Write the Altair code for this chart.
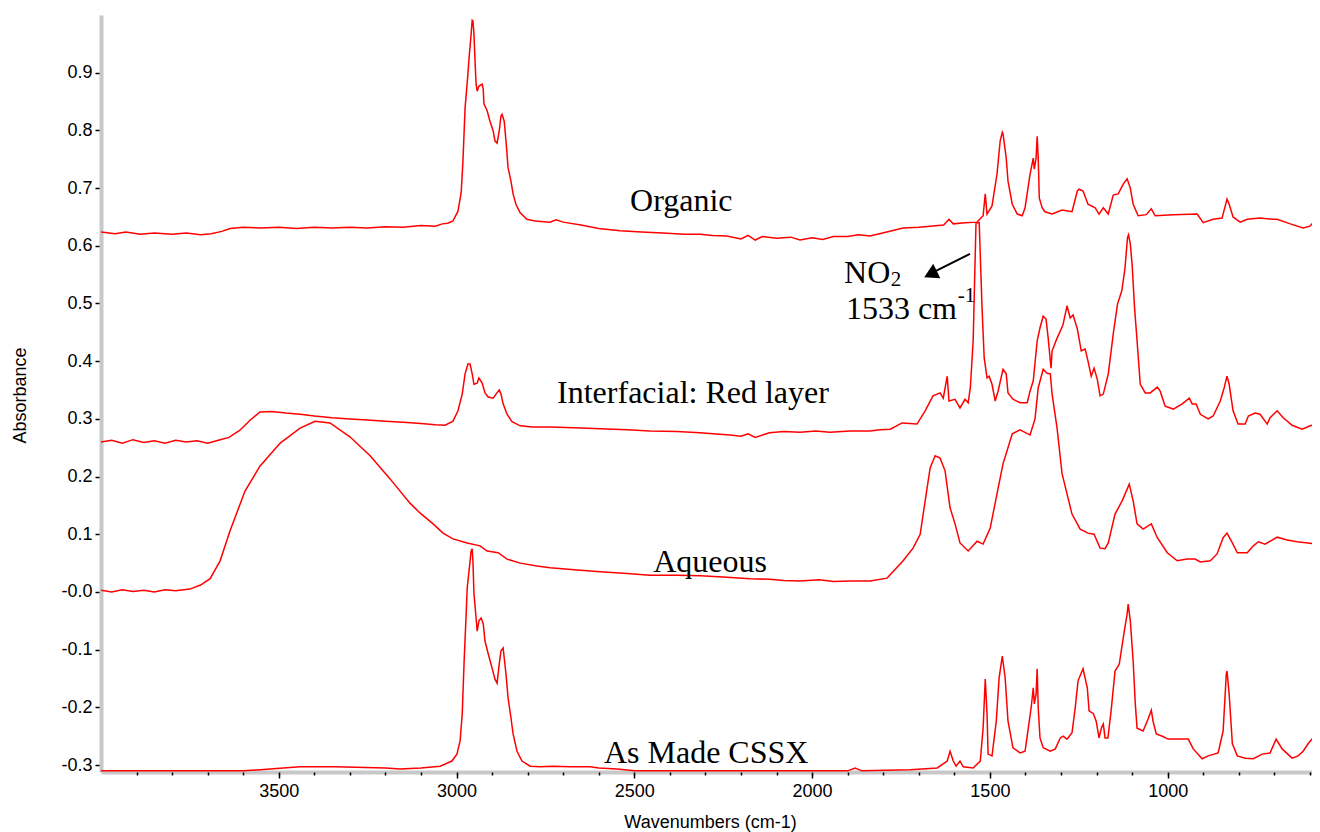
import altair as alt
import pandas as pd

# ---------------- spectra: (wavenumber cm-1, absorbance) ----------------
organic = [
    (4000, 0.624), (3960, 0.621), (3930, 0.624), (3890, 0.620), (3850, 0.622), (3800, 0.620),
    (3760, 0.622), (3720, 0.619), (3690, 0.621), (3660, 0.625), (3637, 0.630), (3600, 0.632),
    (3550, 0.631), (3500, 0.632), (3450, 0.630), (3400, 0.632), (3350, 0.631), (3300, 0.632),
    (3250, 0.631), (3200, 0.633), (3150, 0.632), (3100, 0.635), (3060, 0.634), (3040, 0.638),
    (3025, 0.639), (3010, 0.643), (2996, 0.660), (2987, 0.692), (2982, 0.747), (2976, 0.839),
    (2968, 0.898), (2965, 0.924), (2959, 0.967), (2956, 0.991), (2954, 0.990), (2951, 0.967),
    (2948, 0.920), (2945, 0.880), (2942, 0.868), (2937, 0.877), (2928, 0.880), (2925, 0.872),
    (2923, 0.846), (2914, 0.834), (2906, 0.816), (2897, 0.799), (2892, 0.782), (2886, 0.778),
    (2880, 0.799), (2875, 0.825), (2872, 0.828), (2866, 0.816), (2861, 0.782), (2855, 0.735),
    (2847, 0.712), (2841, 0.690), (2833, 0.672), (2821, 0.657), (2802, 0.646), (2779, 0.643),
    (2737, 0.641), (2720, 0.645), (2700, 0.641), (2650, 0.636), (2600, 0.630), (2540, 0.626),
    (2480, 0.624), (2420, 0.622), (2360, 0.620), (2315, 0.620), (2280, 0.618), (2240, 0.617),
    (2200, 0.612), (2180, 0.618), (2160, 0.610), (2140, 0.616), (2100, 0.613), (2060, 0.615),
    (2034, 0.610), (2000, 0.614), (1970, 0.611), (1940, 0.616), (1900, 0.616), (1870, 0.619),
    (1837, 0.617), (1790, 0.624), (1744, 0.631), (1700, 0.632), (1668, 0.634), (1630, 0.636),
    (1615, 0.646), (1603, 0.638), (1570, 0.640), (1536, 0.641), (1519, 0.652), (1513, 0.690),
    (1508, 0.655), (1494, 0.669), (1480, 0.724), (1471, 0.782), (1465, 0.797), (1463, 0.794),
    (1454, 0.752), (1449, 0.712), (1437, 0.672), (1423, 0.655), (1409, 0.652), (1401, 0.666),
    (1387, 0.724), (1378, 0.752), (1375, 0.733), (1370, 0.752), (1367, 0.790), (1364, 0.752),
    (1361, 0.683), (1353, 0.666), (1345, 0.659), (1325, 0.655), (1297, 0.662), (1269, 0.659),
    (1254, 0.695), (1249, 0.698), (1238, 0.695), (1224, 0.672), (1204, 0.666), (1193, 0.655),
    (1181, 0.666), (1167, 0.655), (1153, 0.688), (1139, 0.690), (1125, 0.707), (1114, 0.716),
    (1105, 0.700), (1097, 0.672), (1083, 0.652), (1060, 0.654), (1046, 0.664), (1035, 0.652),
    (984, 0.654), (917, 0.655), (900, 0.640), (872, 0.646), (847, 0.648), (833, 0.681),
    (827, 0.672), (816, 0.650), (796, 0.641), (776, 0.646), (740, 0.648), (703, 0.646),
    (692, 0.646), (655, 0.638), (619, 0.631), (600, 0.634), (591, 0.640), (572, 0.643),
]

interfacial = [
    (4000, 0.260), (3970, 0.263), (3940, 0.258), (3910, 0.264), (3880, 0.259), (3850, 0.262),
    (3820, 0.258), (3790, 0.263), (3760, 0.260), (3730, 0.262), (3700, 0.258), (3670, 0.263),
    (3640, 0.268), (3610, 0.280), (3580, 0.298), (3553, 0.312), (3520, 0.313), (3480, 0.310),
    (3440, 0.308), (3400, 0.305), (3350, 0.302), (3300, 0.300), (3250, 0.298), (3200, 0.296),
    (3150, 0.294), (3100, 0.292), (3060, 0.290), (3032, 0.289), (3010, 0.296), (2996, 0.314),
    (2984, 0.343), (2976, 0.378), (2968, 0.395), (2962, 0.395), (2956, 0.378), (2951, 0.360),
    (2942, 0.362), (2937, 0.371), (2928, 0.362), (2920, 0.345), (2911, 0.338), (2897, 0.336),
    (2889, 0.343), (2880, 0.350), (2875, 0.343), (2869, 0.326), (2858, 0.308), (2844, 0.295),
    (2821, 0.288), (2785, 0.286), (2737, 0.286), (2650, 0.284), (2596, 0.283), (2520, 0.281),
    (2456, 0.279), (2380, 0.278), (2315, 0.276), (2270, 0.274), (2231, 0.272), (2200, 0.270),
    (2180, 0.274), (2160, 0.268), (2120, 0.276), (2080, 0.278), (2034, 0.277), (1990, 0.279),
    (1950, 0.277), (1893, 0.279), (1837, 0.279), (1809, 0.281), (1780, 0.282), (1747, 0.293),
    (1705, 0.291), (1682, 0.314), (1660, 0.340), (1640, 0.345), (1631, 0.336), (1620, 0.374),
    (1615, 0.331), (1598, 0.334), (1584, 0.319), (1570, 0.334), (1561, 0.328), (1555, 0.354),
    (1547, 0.435), (1539, 0.640), (1530, 0.640), (1522, 0.492), (1516, 0.406), (1508, 0.371),
    (1502, 0.374), (1494, 0.360), (1485, 0.331), (1477, 0.348), (1463, 0.386), (1454, 0.378),
    (1449, 0.345), (1435, 0.334), (1415, 0.328), (1395, 0.328), (1387, 0.348), (1378, 0.366),
    (1367, 0.435), (1359, 0.458), (1350, 0.478), (1342, 0.473), (1336, 0.440), (1328, 0.388),
    (1325, 0.418), (1311, 0.440), (1302, 0.452), (1294, 0.464), (1283, 0.496), (1274, 0.475),
    (1266, 0.480), (1254, 0.456), (1243, 0.418), (1232, 0.421), (1224, 0.400), (1215, 0.374),
    (1207, 0.388), (1198, 0.369), (1190, 0.340), (1181, 0.343), (1167, 0.378), (1152, 0.452),
    (1141, 0.499), (1129, 0.522), (1120, 0.561), (1113, 0.614), (1110, 0.619), (1105, 0.603),
    (1100, 0.568), (1093, 0.492), (1088, 0.452), (1077, 0.360), (1063, 0.345), (1049, 0.345),
    (1029, 0.355), (1021, 0.348), (1007, 0.322), (984, 0.317), (959, 0.326), (939, 0.336),
    (931, 0.326), (920, 0.326), (908, 0.308), (886, 0.300), (872, 0.305), (852, 0.331),
    (841, 0.354), (833, 0.374), (827, 0.360), (816, 0.314), (802, 0.291), (782, 0.291),
    (773, 0.305), (754, 0.310), (740, 0.308), (720, 0.291), (712, 0.302), (692, 0.314),
    (675, 0.302), (650, 0.289), (622, 0.282), (599, 0.288), (585, 0.291), (572, 0.284),
]

aqueous = [
    (4000, 0.003), (3970, 0.000), (3940, 0.004), (3910, 0.001), (3880, 0.003), (3850, 0.000),
    (3820, 0.004), (3790, 0.002), (3750, 0.005), (3720, 0.012), (3693, 0.023), (3665, 0.054),
    (3637, 0.106), (3595, 0.175), (3553, 0.218), (3496, 0.258), (3440, 0.284), (3398, 0.296),
    (3356, 0.293), (3300, 0.269), (3243, 0.236), (3187, 0.196), (3131, 0.154), (3103, 0.137),
    (3066, 0.118), (3038, 0.102), (3010, 0.092), (2970, 0.085), (2934, 0.080), (2914, 0.071),
    (2883, 0.068), (2858, 0.057), (2821, 0.050), (2774, 0.045), (2737, 0.042), (2660, 0.038),
    (2596, 0.035), (2520, 0.032), (2456, 0.029), (2380, 0.029), (2315, 0.028), (2250, 0.026),
    (2174, 0.023), (2120, 0.022), (2080, 0.020), (2034, 0.019), (1980, 0.021), (1940, 0.018),
    (1893, 0.019), (1837, 0.019), (1789, 0.024), (1744, 0.054), (1716, 0.076), (1696, 0.100),
    (1682, 0.158), (1668, 0.215), (1654, 0.236), (1640, 0.232), (1626, 0.210), (1612, 0.146),
    (1598, 0.118), (1584, 0.085), (1561, 0.071), (1536, 0.088), (1519, 0.083), (1499, 0.111),
    (1480, 0.170), (1463, 0.222), (1437, 0.274), (1415, 0.281), (1387, 0.272), (1373, 0.300),
    (1364, 0.354), (1350, 0.386), (1339, 0.379), (1330, 0.378), (1325, 0.343), (1311, 0.284),
    (1297, 0.205), (1283, 0.170), (1269, 0.135), (1246, 0.109), (1224, 0.102), (1207, 0.100),
    (1190, 0.076), (1176, 0.075), (1167, 0.085), (1148, 0.135), (1128, 0.158), (1108, 0.187),
    (1097, 0.158), (1086, 0.118), (1069, 0.109), (1046, 0.118), (1029, 0.094), (1001, 0.068),
    (973, 0.054), (945, 0.057), (923, 0.057), (908, 0.052), (880, 0.054), (861, 0.066),
    (844, 0.094), (833, 0.102), (818, 0.085), (804, 0.068), (776, 0.068), (759, 0.080),
    (745, 0.087), (726, 0.083), (692, 0.095), (664, 0.090), (636, 0.087), (605, 0.085),
    (594, 0.084), (585, 0.080), (572, 0.078),
]

cssx = [
    (4000, -0.310), (3800, -0.310), (3600, -0.310), (3525, -0.307), (3440, -0.303), (3340, -0.303),
    (3200, -0.305), (3159, -0.307), (3100, -0.305), (3046, -0.302), (3013, -0.293), (2999, -0.281),
    (2990, -0.258), (2984, -0.211), (2979, -0.125), (2973, -0.038), (2970, 0.007), (2965, 0.036),
    (2959, 0.071), (2956, 0.075), (2954, 0.054), (2951, -0.003), (2945, -0.045), (2942, -0.068),
    (2937, -0.050), (2931, -0.045), (2925, -0.055), (2920, -0.085), (2911, -0.107), (2900, -0.132),
    (2892, -0.151), (2886, -0.158), (2880, -0.125), (2875, -0.102), (2869, -0.097), (2866, -0.114),
    (2861, -0.142), (2855, -0.184), (2847, -0.218), (2841, -0.246), (2830, -0.276), (2816, -0.293),
    (2793, -0.302), (2765, -0.303), (2729, -0.302), (2680, -0.303), (2624, -0.303), (2600, -0.305),
    (2548, -0.307), (2500, -0.310), (2200, -0.310), (1900, -0.310), (1879, -0.305), (1860, -0.310),
    (1724, -0.308), (1648, -0.305), (1620, -0.293), (1612, -0.276), (1603, -0.293), (1595, -0.302),
    (1584, -0.293), (1575, -0.303), (1547, -0.305), (1527, -0.293), (1519, -0.236), (1513, -0.151),
    (1508, -0.211), (1505, -0.281), (1494, -0.284), (1482, -0.224), (1474, -0.149), (1465, -0.111),
    (1457, -0.149), (1449, -0.224), (1435, -0.270), (1415, -0.279), (1401, -0.276), (1392, -0.236),
    (1384, -0.201), (1378, -0.166), (1375, -0.194), (1370, -0.177), (1367, -0.133), (1364, -0.201),
    (1359, -0.253), (1350, -0.270), (1330, -0.276), (1316, -0.272), (1302, -0.253), (1294, -0.250),
    (1283, -0.255), (1269, -0.244), (1260, -0.201), (1252, -0.154), (1238, -0.133), (1226, -0.166),
    (1221, -0.206), (1209, -0.211), (1201, -0.224), (1193, -0.253), (1186, -0.235), (1181, -0.229),
    (1176, -0.253), (1168, -0.253), (1159, -0.206), (1148, -0.137), (1136, -0.125), (1125, -0.080),
    (1114, -0.038), (1111, -0.021), (1105, -0.050), (1097, -0.120), (1091, -0.194), (1086, -0.236),
    (1069, -0.241), (1055, -0.220), (1046, -0.205), (1041, -0.224), (1032, -0.246), (1015, -0.250),
    (999, -0.255), (959, -0.255), (942, -0.255), (928, -0.272), (903, -0.289), (886, -0.284),
    (858, -0.279), (844, -0.241), (835, -0.142), (833, -0.137), (827, -0.177), (818, -0.263),
    (804, -0.284), (782, -0.288), (759, -0.289), (734, -0.281), (712, -0.279), (695, -0.255),
    (678, -0.272), (650, -0.288), (633, -0.284), (619, -0.276), (605, -0.263), (594, -0.255),
    (586, -0.250), (580, -0.245), (577, -0.232), (574, -0.262), (572, -0.258),
]

series_names = ["Organic", "Interfacial", "Aqueous", "As Made CSSX"]
series_data = [organic, interfacial, aqueous, cssx]

# ---------------- annotations (text, wavenumber, absorbance at baseline) ----------------
label_text = ["Organic", "Interfacial: Red layer", "Aqueous", "As Made CSSX"]
label_wn = [2368, 2335, 2287, 2298]
label_abs = [0.660, 0.328, 0.035, -0.296]

note_text = ["NO", "1533 cm"]
note_wn = [1910, 1905]
note_abs = [0.536, 0.473]

small_text = ["2", "-1"]
small_wn = [1779, 1590]
small_abs = [0.530, 0.503]

arrow_from = (1556, 0.586)
arrow_to = (1660, 0.554)
arrow_head = (1667, 0.551)

# ---------------- axis tick values ----------------
x_major = [1000, 1500, 2000, 2500, 3000, 3500]
x_minor = list(range(600, 4000, 100))
y_ticks = [round(-0.3 + 0.025 * i, 3) for i in range(52)]

rows = []
for name, pts in zip(series_names, series_data):
    for w, a in pts:
        rows.append({"series": name, "wn": w, "absorb": a})
df = pd.DataFrame(rows)

labels_df = pd.DataFrame({"text": label_text, "wn": label_wn, "absorb": label_abs})
notes_df = pd.DataFrame({"text": note_text, "wn": note_wn, "absorb": note_abs})
small_df = pd.DataFrame({"text": small_text, "wn": small_wn, "absorb": small_abs})
arrow_df = pd.DataFrame({"wn": [arrow_from[0]], "absorb": [arrow_from[1]],
                         "wn2": [arrow_to[0]], "absorb2": [arrow_to[1]]})
head_df = pd.DataFrame({"wn": [arrow_head[0]], "absorb": [arrow_head[1]]})

x_scale = alt.Scale(domain=[4000, 594], nice=False, zero=False)
y_scale = alt.Scale(domain=[-0.312, 1.0], nice=False, zero=False)

y_major = "abs(datum.value*10 - round(datum.value*10)) < 0.001"
x_axis_major = alt.Axis(
    values=x_major, format="d", tickSize=6, orient="bottom",
    title="Wavenumbers (cm-1)",
    titleX=609, titleY=55, titleAlign="center", titleBaseline="alphabetic",
    labelPadding=4, labelOverlap=False, labelFlush=False, grid=False,
)
x_axis_minor = alt.Axis(
    values=x_minor, tickSize=3, orient="bottom", labels=False, domain=False,
    title=None, grid=False,
)
y_axis = alt.Axis(
    values=y_ticks,
    labelExpr=(y_major + " ? (abs(datum.value) < 0.0001 ? '-0.0' : "
               "((datum.value < 0 ? '-' : '') + format(abs(datum.value), '.1f'))) : ''"),
    tickSize={"condition": {"test": y_major, "value": 6}, "value": 3},
    title="Absorbance",
    titleX=-81, titleY=380, titleAlign="center", titleBaseline="middle", titleAngle=270,
    labelPadding=3, labelOverlap=False, labelFlush=False, grid=False,
)

Xn = alt.X("wn:Q", scale=x_scale, axis=None)
Yn = alt.Y("absorb:Q", scale=y_scale)

lines = alt.Chart(df).mark_line(color="#ff0000", strokeWidth=1.5, clip=True).encode(
    x=alt.X("wn:Q", scale=x_scale, axis=x_axis_major),
    y=alt.Y("absorb:Q", scale=y_scale, axis=y_axis),
    detail="series:N",
)

minor_ticks = alt.Chart(head_df).mark_point(opacity=0).encode(
    x=alt.X("wn:Q", scale=x_scale, axis=x_axis_minor), y=Yn
)

main_labels = alt.Chart(labels_df).mark_text(
    font="Liberation Serif", fontSize=32, align="center", baseline="alphabetic", color="black"
).encode(x=Xn, y=Yn, text="text:N")

notes = alt.Chart(notes_df).mark_text(
    font="Liberation Serif", fontSize=32, align="left", baseline="alphabetic", color="black"
).encode(x=Xn, y=Yn, text="text:N")

small = alt.Chart(small_df).mark_text(
    font="Liberation Serif", fontSize=21, align="left", baseline="alphabetic", color="black"
).encode(x=Xn, y=Yn, text="text:N")

arrow = alt.Chart(arrow_df).mark_rule(color="black", strokeWidth=2).encode(
    x=Xn, y=Yn, x2="wn2:Q", y2="absorb2:Q"
)
head = alt.Chart(head_df).mark_point(
    shape="triangle-up", filled=True, color="black", size=260, angle=244, opacity=1
).encode(x=Xn, y=Yn)

chart = alt.layer(lines, minor_ticks, main_labels, notes, small, arrow, head).resolve_axis(
    x="independent"
).properties(
    width=1211, height=757,
    autosize=alt.AutoSizeParams(type="none"),
    padding={"left": 93, "top": 7, "right": 0, "bottom": 62},
    background="white",
).configure_view(stroke=None).configure_axis(
    domainColor="#c8c8c8", domainWidth=4, tickColor="black", tickWidth=1.5,
    labelFont="Liberation Sans", labelFontSize=18, labelColor="black",
    titleFont="Liberation Sans", titleFontSize=18, titleFontWeight="normal", titleColor="black",
)

chart.save("out.html", embed_options={"renderer": "svg", "actions": False})
